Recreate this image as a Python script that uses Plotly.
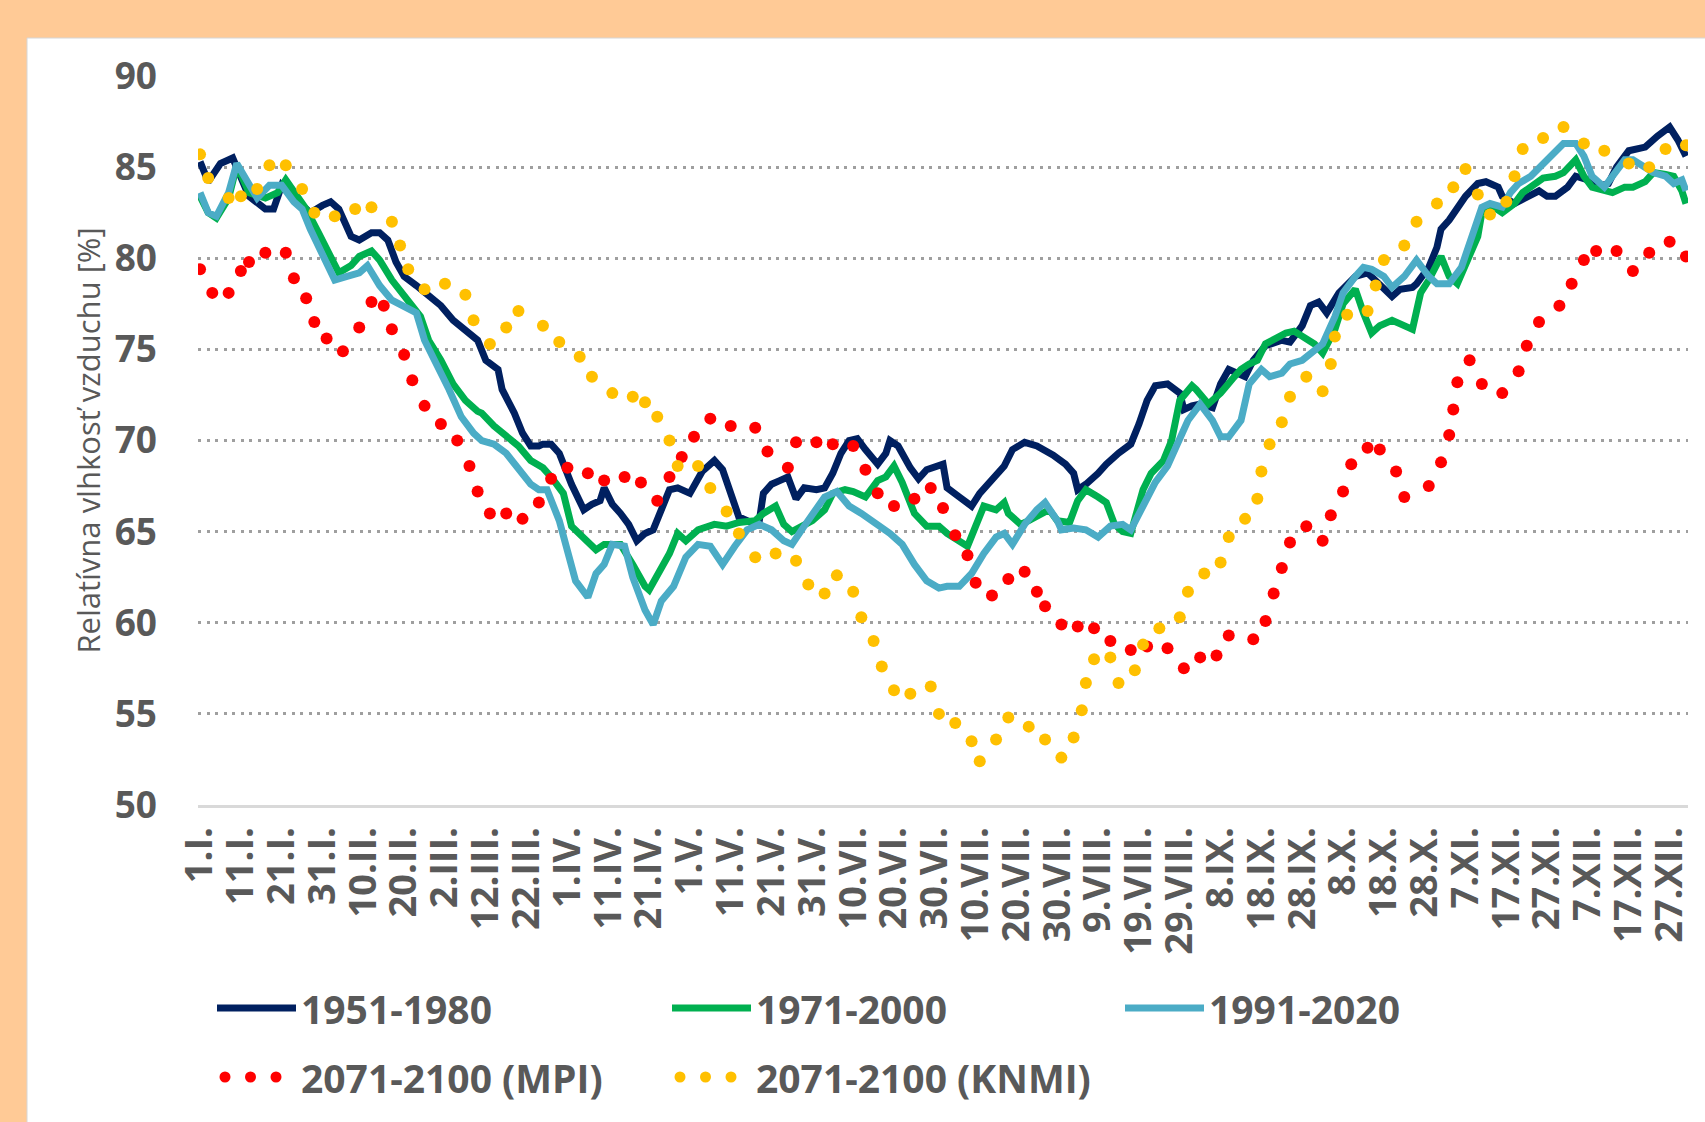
import plotly.graph_objects as go

# ---------------- data ----------------
TICK_LABELS = ["1.I.", "11.I.", "21.I.", "31.I.", "10.II.", "20.II.", "2.III.", "12.III.", "22.III.",
               "1.IV.", "11.IV.", "21.IV.", "1.V.", "11.V.", "21.V.", "31.V.", "10.VI.", "20.VI.",
               "30.VI.", "10.VII.", "20.VII.", "30.VII.", "9.VIII.", "19.VIII.", "29.VIII.", "8.IX.",
               "18.IX.", "28.IX.", "8.X.", "18.X.", "28.X.", "7.XI.", "17.XI.", "27.XI.", "7.XII.",
               "17.XII.", "27.XII."]

P1951_DAYS = [1, 3, 6, 9, 13, 17, 19, 20, 21, 24, 28, 31, 33, 35, 38, 40, 43, 45, 47, 49, 51, 54, 57, 60,
              63, 66, 69, 71, 74, 75, 78, 80, 82, 84, 85, 87, 89, 92, 95, 97, 99, 100, 102, 104, 106, 108,
              110, 112, 115, 116, 118, 121, 124, 127, 129, 131, 133, 136, 138, 139, 141, 143, 145, 147,
              149, 152, 154, 156, 158, 160, 162, 164, 167, 169, 170, 172, 175, 177, 179, 183, 184, 187,
              190, 192, 195, 198, 200, 203, 206, 210, 213, 215, 216, 218, 221, 223, 226, 229, 231, 233,
              235, 238, 241, 242, 244, 246, 249, 251, 253, 257, 259, 262, 266, 268, 271, 273, 275, 277,
              280, 282, 284, 287, 289, 291, 293, 295, 298, 299, 302, 304, 305, 307, 310, 311, 314, 316,
              319, 320, 323, 326, 329, 331, 333, 336, 338, 341, 343, 346, 348, 351, 355, 358, 361, 363, 365]
P1951_VALUES = [85.3, 84.2, 85.2, 85.5, 83.4, 82.7, 82.7, 83.5, 84.0, 83.3, 82.5, 82.9, 83.1, 82.7, 81.2,
                81.0, 81.4, 81.4, 81.0, 79.8, 79.0, 78.5, 77.9, 77.4, 76.6, 76.1, 75.5, 74.4, 73.9, 72.8,
                71.5, 70.4, 69.7, 69.7, 69.8, 69.8, 69.3, 67.6, 66.2, 66.5, 66.7, 67.4, 66.5, 66.0, 65.4,
                64.5, 64.9, 65.1, 66.7, 67.3, 67.4, 67.1, 68.3, 68.9, 68.4, 67.0, 65.8, 65.5, 65.6, 67.1,
                67.6, 67.8, 68.0, 66.8, 67.4, 67.3, 67.4, 68.2, 69.3, 70.0, 70.1, 69.5, 68.7, 69.3, 70.0,
                69.7, 68.5, 67.9, 68.4, 68.7, 67.4, 66.9, 66.4, 67.1, 67.8, 68.6, 69.5, 69.9, 69.7, 69.2,
                68.7, 68.2, 67.3, 67.6, 68.2, 68.7, 69.3, 69.8, 70.9, 72.2, 73.0, 73.1, 72.6, 71.7, 71.9,
                72.0, 71.8, 73.1, 73.9, 73.5, 74.4, 75.2, 75.5, 75.4, 76.3, 77.4, 77.6, 77.0, 78.1, 78.6,
                79.0, 79.2, 78.8, 78.3, 77.9, 78.3, 78.4, 78.6, 79.5, 80.6, 81.6, 82.1, 83.2, 83.4, 84.1,
                84.2, 83.9, 83.4, 83.0, 83.4, 83.7, 83.4, 83.4, 83.9, 84.5, 84.3, 83.9, 84.1, 85.0, 85.9,
                86.1, 86.7, 87.2, 86.5, 85.6]

P1971_DAYS = [1, 3, 5, 8, 10, 13, 17, 20, 22, 25, 27, 30, 33, 35, 38, 40, 43, 45, 48, 51, 55, 57, 60, 63,
              66, 69, 70, 73, 76, 79, 82, 85, 87, 90, 92, 98, 100, 104, 107, 110, 111, 114, 116, 118, 120,
              123, 127, 130, 133, 137, 139, 142, 144, 146, 148, 151, 154, 156, 159, 161, 164, 167, 169,
              171, 173, 176, 179, 182, 184, 187, 189, 191, 193, 196, 198, 199, 202, 204, 207, 209, 211,
              214, 216, 218, 221, 223, 225, 227, 229, 230, 232, 234, 237, 239, 241, 244, 245, 248, 251,
              254, 256, 258, 260, 262, 265, 267, 269, 271, 274, 276, 279, 281, 284, 286, 288, 290, 293,
              295, 298, 300, 302, 305, 307, 309, 311, 314, 315, 318, 320, 323, 325, 328, 330, 333, 335,
              338, 340, 342, 345, 347, 350, 352, 355, 357, 360, 362, 364, 365]
P1971_VALUES = [83.4, 82.5, 82.2, 83.3, 85.1, 83.6, 83.3, 83.6, 84.3, 83.4, 82.7, 81.4, 80.1, 79.2, 79.6,
                80.1, 80.4, 79.9, 78.8, 77.9, 76.8, 75.5, 74.4, 73.1, 72.2, 71.6, 71.5, 70.8, 70.2, 69.7,
                68.9, 68.5, 68.0, 67.1, 65.3, 64.0, 64.3, 64.3, 63.2, 62.0, 61.8, 62.9, 63.8, 64.9, 64.5,
                65.1, 65.4, 65.3, 65.5, 65.6, 66.0, 66.4, 65.4, 65.0, 65.2, 65.6, 66.2, 67.1, 67.3, 67.2,
                66.9, 67.8, 68.0, 68.6, 67.7, 66.0, 65.3, 65.3, 64.9, 64.5, 64.2, 65.3, 66.4, 66.2, 66.6,
                66.0, 65.4, 65.6, 66.0, 66.2, 65.6, 65.5, 66.7, 67.3, 66.9, 66.6, 65.4, 65.0, 64.9, 65.6,
                67.3, 68.2, 68.9, 70.0, 72.2, 73.0, 72.8, 72.0, 72.6, 73.4, 73.9, 74.2, 74.4, 75.3, 75.7,
                75.9, 76.0, 75.7, 75.3, 74.8, 76.1, 77.5, 78.3, 77.0, 75.9, 76.3, 76.6, 76.4, 76.1, 78.1,
                78.8, 80.1, 79.0, 78.6, 79.7, 81.2, 82.5, 82.8, 82.5, 83.0, 83.6, 84.1, 84.4, 84.5, 84.7,
                85.4, 84.5, 83.9, 83.7, 83.6, 83.9, 83.9, 84.2, 84.7, 84.6, 84.5, 83.7, 83.0]

P1991_DAYS = [1, 3, 5, 8, 10, 13, 15, 18, 21, 24, 26, 28, 31, 34, 37, 40, 42, 45, 48, 51, 54, 56, 59, 62,
              65, 68, 70, 73, 76, 79, 82, 84, 86, 89, 91, 93, 96, 98, 100, 102, 105, 107, 110, 112, 114,
              117, 120, 123, 126, 129, 132, 135, 138, 141, 144, 146, 149, 152, 154, 157, 160, 163, 167,
              170, 173, 176, 179, 182, 184, 187, 190, 193, 196, 198, 200, 203, 206, 208, 211, 212, 215,
              218, 221, 224, 227, 229, 232, 235, 238, 241, 243, 246, 249, 251, 253, 256, 258, 261, 263,
              266, 268, 271, 274, 276, 279, 281, 284, 286, 288, 291, 293, 296, 299, 302, 304, 307, 310,
              312, 315, 317, 320, 322, 324, 327, 330, 333, 335, 338, 340, 342, 345, 347, 350, 352, 355,
              357, 360, 362, 364, 365]
P1991_VALUES = [83.6, 82.5, 82.3, 83.6, 85.2, 84.0, 83.3, 84.0, 84.0, 83.1, 82.7, 81.6, 80.3, 78.8, 79.0,
                79.2, 79.6, 78.5, 77.7, 77.4, 77.0, 75.5, 74.2, 72.8, 71.3, 70.4, 70.0, 69.8, 69.3, 68.5,
                67.6, 67.3, 67.3, 65.6, 63.8, 62.3, 61.4, 62.7, 63.2, 64.3, 64.2, 62.5, 60.7, 59.9, 61.2,
                62.0, 63.6, 64.3, 64.2, 63.2, 64.2, 65.1, 65.4, 65.1, 64.5, 64.3, 65.3, 66.2, 66.9, 67.2,
                66.4, 66.0, 65.4, 64.9, 64.3, 63.2, 62.3, 61.9, 62.0, 62.0, 62.7, 63.8, 64.7, 64.9, 64.3,
                65.4, 66.2, 66.6, 65.6, 65.1, 65.2, 65.1, 64.7, 65.3, 65.4, 65.1, 66.4, 67.7, 68.6, 70.0,
                71.1, 72.0, 71.1, 70.2, 70.2, 71.1, 73.1, 73.9, 73.5, 73.7, 74.2, 74.4, 75.0, 75.3, 76.8,
                78.1, 79.0, 79.5, 79.4, 79.0, 78.4, 79.0, 79.9, 79.0, 78.6, 78.6, 79.5, 80.8, 82.8, 83.0,
                82.8, 83.6, 84.1, 84.5, 85.2, 85.9, 86.3, 86.3, 85.6, 84.5, 83.9, 84.5, 85.4, 85.4, 85.0,
                84.7, 84.5, 84.1, 84.3, 83.7]

MPI_DAYS = [1, 4, 8, 11, 13, 17, 22, 24, 27, 29, 32, 36, 40, 43, 46, 48, 51, 53, 56, 60, 64, 67, 69, 72,
            76, 80, 84, 87, 91, 96, 100, 105, 109, 113, 116, 119, 122, 126, 131, 137, 140, 145, 147, 152,
            156, 161, 164, 167, 171, 176, 180, 183, 186, 189, 191, 195, 199, 203, 206, 208, 212, 216, 220,
            224, 229, 233, 238, 242, 246, 250, 253, 259, 262, 264, 266, 268, 272, 276, 278, 281, 283, 287,
            290, 294, 296, 302, 305, 307, 308, 309, 312, 315, 320, 324, 326, 329, 334, 337, 340, 343, 348,
            352, 356, 361, 365]
MPI_VALUES = [79.4, 78.1, 78.1, 79.3, 79.8, 80.3, 80.3, 78.9, 77.8, 76.5, 75.6, 74.9, 76.2, 77.6, 77.4,
              76.1, 74.7, 73.3, 71.9, 70.9, 70.0, 68.6, 67.2, 66.0, 66.0, 65.7, 66.6, 67.9, 68.5, 68.2,
              67.8, 68.0, 67.7, 66.7, 68.0, 69.1, 70.2, 71.2, 70.8, 70.7, 69.4, 68.5, 69.9, 69.9, 69.8,
              69.7, 68.4, 67.1, 66.4, 66.8, 67.4, 66.3, 64.8, 63.7, 62.2, 61.5, 62.4, 62.8, 61.7, 60.9,
              59.9, 59.8, 59.7, 59.0, 58.5, 58.7, 58.6, 57.5, 58.1, 58.2, 59.3, 59.1, 60.1, 61.6, 63.0,
              64.4, 65.3, 64.5, 65.9, 67.2, 68.7, 69.6, 69.5, 68.3, 66.9, 67.5, 68.8, 70.3, 71.7, 73.2,
              74.4, 73.1, 72.6, 73.8, 75.2, 76.5, 77.4, 78.6, 79.9, 80.4, 80.4, 79.3, 80.3, 80.9, 80.1]

KNMI_DAYS = [1, 3, 8, 11, 15, 18, 22, 26, 29, 34, 39, 43, 48, 50, 52, 56, 61, 66, 68, 72, 76, 79, 85, 89,
             94, 97, 102, 107, 110, 113, 116, 118, 123, 126, 130, 133, 137, 142, 147, 150, 154, 157, 161,
             163, 166, 168, 171, 175, 180, 182, 186, 190, 192, 196, 199, 204, 208, 212, 215, 217, 218, 220,
             224, 226, 230, 232, 236, 241, 243, 247, 251, 253, 257, 260, 261, 263, 266, 268, 272, 276, 278,
             279, 282, 287, 289, 291, 296, 299, 304, 308, 311, 314, 317, 321, 323, 325, 330, 335, 340, 345,
             351, 356, 360, 365]
KNMI_VALUES = [85.7, 84.4, 83.3, 83.4, 83.8, 85.1, 85.1, 83.8, 82.5, 82.3, 82.7, 82.8, 82.0, 80.7, 79.4,
               78.3, 78.6, 78.0, 76.6, 75.3, 76.2, 77.1, 76.3, 75.4, 74.6, 73.5, 72.6, 72.4, 72.1, 71.3,
               70.0, 68.6, 68.6, 67.4, 66.1, 64.9, 63.6, 63.8, 63.4, 62.1, 61.6, 62.6, 61.7, 60.3, 59.0,
               57.6, 56.3, 56.1, 56.5, 55.0, 54.5, 53.5, 52.4, 53.6, 54.8, 54.3, 53.6, 52.6, 53.7, 55.2,
               56.7, 58.0, 58.1, 56.7, 57.4, 58.8, 59.7, 60.3, 61.7, 62.7, 63.3, 64.7, 65.7, 66.8, 68.3,
               69.8, 71.0, 72.4, 73.5, 72.7, 74.2, 75.7, 76.9, 77.1, 78.5, 79.9, 80.7, 82.0, 83.0, 83.9,
               84.9, 83.5, 82.4, 83.1, 84.5, 86.0, 86.6, 87.2, 86.3, 85.9, 85.2, 85.0, 86.0, 86.2]

SERIES_NAMES = ["1951-1980", "1971-2000", "1991-2020", "2071-2100 (MPI)", "2071-2100 (KNMI)"]
Y_TICKS = [50, 55, 60, 65, 70, 75, 80, 85, 90]
Y_TITLE = "Relatívna vlhkosť vzduchu [%]"

# ---------------- styling ----------------
W, H = 1705, 1122
ML, MR, MT, MB = 198, 17, 76, 317
PW, PH = W - ML - MR, H - MT - MB
NAVY, GREEN, AQUA, RED, GOLD = "#002060", "#00B050", "#4BACC6", "#FF0000", "#FFC000"
TXT = "#595959"
FONT = "Open Sans"
BG = "#FFCA96"


def px(x):
    return (x - ML) / PW


def py(y):
    return (MT + PH - y) / PH


fig = go.Figure()
for days, vals, col, name in [(P1951_DAYS, P1951_VALUES, NAVY, SERIES_NAMES[0]),
                              (P1971_DAYS, P1971_VALUES, GREEN, SERIES_NAMES[1]),
                              (P1991_DAYS, P1991_VALUES, AQUA, SERIES_NAMES[2])]:
    fig.add_trace(go.Scatter(x=days, y=vals, mode="lines", name=name,
                             line=dict(color=col, width=7), showlegend=False))
for days, vals, col, name in [(MPI_DAYS, MPI_VALUES, RED, SERIES_NAMES[3]),
                              (KNMI_DAYS, KNMI_VALUES, GOLD, SERIES_NAMES[4])]:
    fig.add_trace(go.Scatter(x=days, y=vals, mode="markers", name=name,
                             marker=dict(color=col, size=12, line=dict(width=0)), showlegend=False))

shapes = [dict(type="rect", xref="paper", yref="paper", layer="below",
               x0=px(27), x1=px(W + 5), y0=py(H + 5), y1=py(38),
               fillcolor="white", line=dict(color="#D6D6D6", width=1))]
annotations = []

# manual legend (long line samples as in the original)
LEG_ROW1, LEG_ROW2 = 1008, 1077
LEG_FONT = dict(family=FONT, size=39, color=TXT, weight=700)
line_items = [(217, NAVY, SERIES_NAMES[0]), (672, GREEN, SERIES_NAMES[1]), (1125, AQUA, SERIES_NAMES[2])]
for x0, col, name in line_items:
    shapes.append(dict(type="line", xref="paper", yref="paper", x0=px(x0), x1=px(x0 + 79),
                       y0=py(LEG_ROW1), y1=py(LEG_ROW1), line=dict(color=col, width=7)))
    annotations.append(dict(xref="paper", yref="paper", x=px(x0 + 82), y=py(LEG_ROW1), text=name,
                            showarrow=False, xanchor="left", yanchor="middle", font=LEG_FONT))
dot_items = [(225, RED, SERIES_NAMES[3]), (680, GOLD, SERIES_NAMES[4])]
for x0, col, name in dot_items:
    for k in range(3):
        cx = x0 + 25.5 * k
        shapes.append(dict(type="circle", xref="paper", yref="paper", x0=px(cx - 5.5), x1=px(cx + 5.5),
                           y0=py(LEG_ROW2 + 5.5), y1=py(LEG_ROW2 - 5.5), fillcolor=col,
                           line=dict(width=0)))
    annotations.append(dict(xref="paper", yref="paper", x=px(x0 + 74), y=py(LEG_ROW2), text=name,
                            showarrow=False, xanchor="left", yanchor="middle", font=LEG_FONT))

fig.update_layout(
    width=W, height=H, autosize=False,
    margin=dict(l=ML, r=MR, t=MT, b=MB, pad=0),
    paper_bgcolor=BG, plot_bgcolor="white",
    font=dict(family=FONT, color=TXT),
    shapes=shapes, annotations=annotations, showlegend=False,
    xaxis=dict(range=[0.5, 365.5], tickmode="array", tickvals=list(range(1, 366, 10)),
               ticktext=TICK_LABELS, tickangle=-90, showgrid=False, zeroline=False,
               showline=True, linecolor="#D9D9D9", linewidth=3, ticks="",
               ticklabelstandoff=4,
               tickfont=dict(family=FONT, size=38, color=TXT, weight=700), fixedrange=True),
    yaxis=dict(range=[50, 90], tickmode="array", tickvals=Y_TICKS, showgrid=True,
               gridcolor="#9F9F9F", gridwidth=3, griddash="3px,5.5px", zeroline=False,
               showline=False, ticks="", ticklabelstandoff=40,
               tickfont=dict(family=FONT, size=37, color=TXT, weight=700),
               title=dict(text=Y_TITLE, standoff=4, font=dict(family=FONT, size=31, color=TXT)),
               fixedrange=True),
)

fig.write_html("out.html",
               config={"displayModeBar": False, "staticPlot": False},
               post_script="document.body.style.margin='0px';document.body.style.padding='0px';"
                           "document.body.style.overflow='hidden';"
                           "document.body.style.background='" + BG + "';")
